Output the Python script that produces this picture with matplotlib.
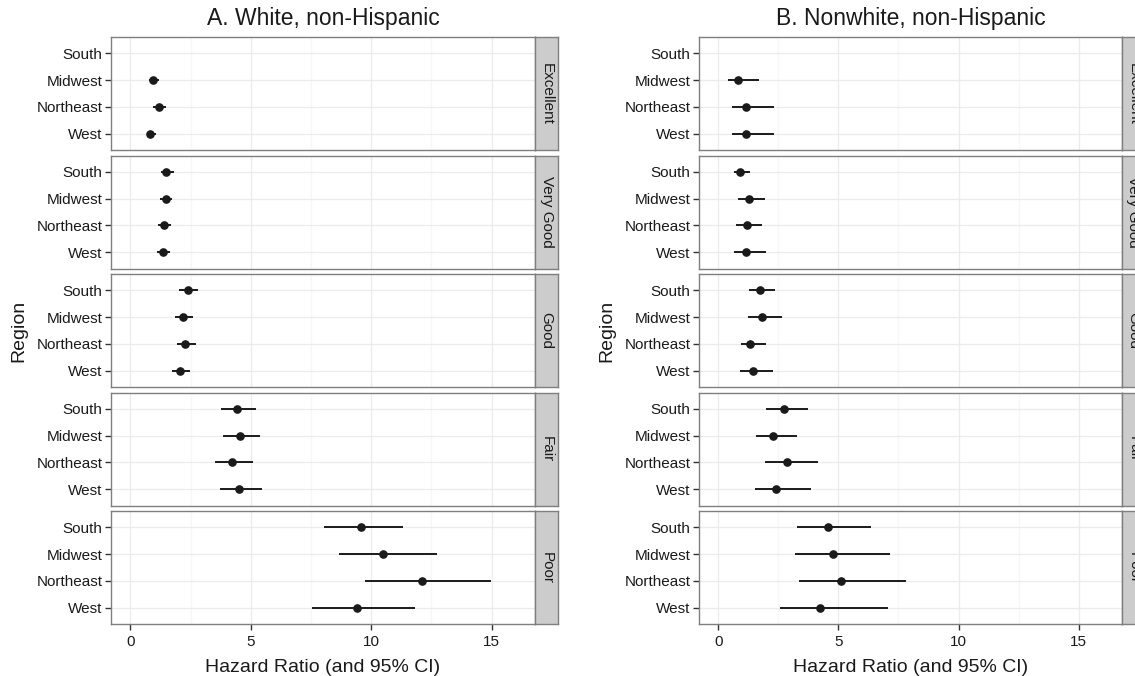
import numpy as np
import matplotlib
matplotlib.use('agg')
from matplotlib import pyplot as plt

plt.rcParams['font.family'] = ['Liberation Sans', 'DejaVu Sans']

regions = ['South', 'Midwest', 'Northeast', 'West']
health = ['Excellent', 'Very Good', 'Good', 'Fair', 'Poor']
titles = ['A. White, non-Hispanic', 'B. Nonwhite, non-Hispanic']

# hazard ratios, rows = health level, cols = region (South is the reference for Excellent)
nan = np.nan
white_hr = [[nan, 0.94, 1.18, 0.82],
            [1.50, 1.47, 1.39, 1.36],
            [2.40, 2.20, 2.29, 2.07],
            [4.42, 4.54, 4.21, 4.51],
            [9.56, 10.48, 12.09, 9.43]]
white_lo = [[nan, 0.79, 0.94, 0.68],
            [1.26, 1.23, 1.15, 1.12],
            [2.04, 1.87, 1.94, 1.73],
            [3.75, 3.84, 3.51, 3.72],
            [8.04, 8.65, 9.76, 7.54]]
white_hi = [[nan, 1.20, 1.50, 1.06],
            [1.81, 1.74, 1.68, 1.65],
            [2.83, 2.61, 2.73, 2.49],
            [5.23, 5.40, 5.10, 5.47],
            [11.34, 12.74, 14.99, 11.82]]

nonwhite_hr = [[nan, 0.84, 1.17, 1.14],
               [0.91, 1.26, 1.18, 1.15],
               [1.73, 1.82, 1.34, 1.43],
               [2.72, 2.26, 2.85, 2.42],
               [4.56, 4.77, 5.11, 4.23]]
nonwhite_lo = [[nan, 0.42, 0.58, 0.58],
               [0.66, 0.82, 0.76, 0.66],
               [1.27, 1.24, 0.93, 0.91],
               [1.97, 1.57, 1.96, 1.54],
               [3.27, 3.20, 3.36, 2.55]]
nonwhite_hi = [[nan, 1.69, 2.33, 2.30],
               [1.33, 1.94, 1.84, 1.99],
               [2.38, 2.64, 1.99, 2.26],
               [3.75, 3.27, 4.17, 3.84],
               [6.35, 7.13, 7.80, 7.08]]

W, H = 1135, 676
fig = plt.figure(figsize=(W / 100, H / 100), dpi=100)
fig.patch.set_facecolor('white')

border = '#7f7f7f'
grid_major = '#ebebeb'
grid_minor = '#f7f7f7'
txt = '#1a1a1a'

panel_x = [(111, 535), (699, 1122)]
strip_w = 23
top, pitch, ph = 37, 118.5, 113


def px_rect(x0, y0, w, h):
    return [x0 / W, 1 - (y0 + h) / H, w / W, h / H]


groups = [(white_hr, white_lo, white_hi), (nonwhite_hr, nonwhite_lo, nonwhite_hi)]

for g, (hr, lo, hi) in enumerate(groups):
    x0, x1 = panel_x[g]
    fig.text((x0 + x1) / 2 / W, 1 - 19 / H, titles[g], ha='center', va='center',
             fontsize=16.5, color=txt)
    for i, lev in enumerate(health):
        y0 = top + i * pitch
        ax = fig.add_axes(px_rect(x0, y0, x1 - x0, ph))
        ax.set_xlim(-0.8, 16.8)
        ax.set_ylim(3.6, -0.6)
        ax.set_xticks([0, 5, 10, 15])
        ax.set_xticks([2.5, 7.5, 12.5], minor=True)
        ax.set_yticks(range(len(regions)))
        ax.set_yticklabels(regions)
        ax.grid(True, which='major', color=grid_major, lw=0.9, zorder=0)
        ax.grid(True, which='minor', axis='x', color=grid_minor, lw=0.9, zorder=0)
        ax.set_axisbelow(True)
        for s in ax.spines.values():
            s.set_color(border)
            s.set_linewidth(1.0)
        ax.tick_params(axis='y', length=4, width=1.0, color='#333333',
                       labelsize=11, labelcolor=txt, pad=2)
        ax.tick_params(axis='x', which='minor', length=0)
        if i == len(health) - 1:
            ax.tick_params(axis='x', which='major', length=4, width=1.0, color='#333333',
                           labelsize=11, labelcolor=txt, pad=4)
            ax.set_xlabel('Hazard Ratio (and 95% CI)', fontsize=14, color=txt, labelpad=7)
        else:
            ax.tick_params(axis='x', which='major', length=0, labelbottom=False)
        if i == 2:
            ax.set_ylabel('Region', fontsize=14, color=txt)
            ax.yaxis.set_label_coords(-0.197, 0.5)

        yy = np.arange(len(regions))
        ax.hlines(yy, lo[i], hi[i], color=txt, lw=1.4, zorder=3)
        ax.plot(hr[i], yy, 'o', color=txt, ms=5.2, zorder=4)

        sx = fig.add_axes(px_rect(x1, y0, strip_w, ph))
        sx.set_facecolor('#cccccc')
        sx.set_xticks([])
        sx.set_yticks([])
        for s in sx.spines.values():
            s.set_color(border)
            s.set_linewidth(1.0)
        sx.text(0.5, 0.5, lev, rotation=-90, ha='center', va='center',
                fontsize=11, color=txt, transform=sx.transAxes)

fig.savefig('out.png', dpi=100)
